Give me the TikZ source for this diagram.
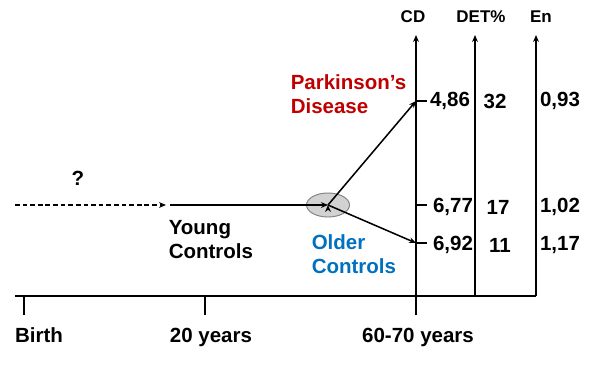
\documentclass[tikz,border=0pt]{standalone}
\usepackage{fontspec}
\setmainfont{Liberation Sans}
\usetikzlibrary{positioning,shapes,arrows.meta}
\definecolor{pdred}{RGB}{192,0,0}
\definecolor{ocblue}{RGB}{0,112,192}

\begin{document}
\begin{tikzpicture}[x=0.03cm,y=-0.03cm,line width=1.3pt,
  big/.style={font=\bfseries\fontsize{17.5}{20.5}\selectfont,inner sep=0pt},
  head/.style={font=\bfseries\fontsize{14.5}{17}\selectfont,inner sep=0pt},
  group/.style={big,align=left,anchor=west},
  val/.style={big},
  tip/.style={-{Stealth[length=6pt,width=5pt]}},
  hub node/.style={ellipse,draw=gray,line width=0.8pt,fill=gray!35,minimum width=1.29cm,minimum height=0.72cm}]
\useasboundingbox (0,0) rectangle (599,364);

% time line
\coordinate (t0) at (15,296);
\coordinate (t1) at (536,296);
\coordinate (b0) at (24,296);
\coordinate (b1) at (24,315);
\coordinate (y0) at (205,296);
\coordinate (y1) at (205,315);
\draw (t0) -- (t1);
\draw (b0) -- (b1);
\draw (y0) -- (y1);
\node[big] (birth) at (39,335) {Birth};
\node[big] (twenty) at (211,337) {20 years};
\node[big] (old) at (418,337) {60-70 years};

% axes
\coordinate (cd0) at (416,315);
\coordinate (cd1) at (416,35);
\coordinate (det0) at (475,296);
\coordinate (det1) at (475,35);
\coordinate (en0) at (536,296);
\coordinate (en1) at (536,35);
\draw[tip] (cd0) -- (cd1);
\draw[tip] (det0) -- (det1);
\draw[tip] (en0) -- (en1);
\node[head] (cd) at (413,17) {CD};
\node[head] (det) at (481,17) {DET\%};
\node[head] (en) at (541,17) {En};

% ticks on CD
\coordinate (k1) at (416,101);
\coordinate (k1e) at (427,101);
\coordinate (k2) at (416,205);
\coordinate (k2e) at (427,205);
\coordinate (k3) at (416,243);
\coordinate (k3e) at (427,243);
\draw (k1) -- (k1e);
\draw (k2) -- (k2e);
\draw (k3) -- (k3e);

% values
\node[val] (v1) at (450,101) {4,86};
\node[val] (v2) at (495,101) {32};
\node[val] (v3) at (560,101) {0,93};
\node[val] (v4) at (453,207) {6,77};
\node[val] (v5) at (498,207) {17};
\node[val] (v6) at (560,207) {1,02};
\node[val] (v7) at (453,245) {6,92};
\node[val] (v8) at (500,245) {11};
\node[val] (v9) at (560,245) {1,17};

% groups
\node[hub node] (hub) at (328,205) {};
\coordinate (d0) at (15,205);
\coordinate (d1) at (166,205);
\coordinate (s0) at (170,205);
\node[big] (q) at (78,178) {?};
\node[group] (young) at (168,240) {Young\\Controls};
\node[group,text=pdred] (pd) at (290,94) {Parkinson’s\\Disease};
\node[group,text=ocblue] (oc) at (311,254) {Older\\Controls};

\draw[tip,dash pattern=on 4pt off 2.5pt] (d0) -- (d1);
\path[draw,tip]
(s0) edge (hub.center)
(hub.center) edge (k1)
edge (k3)
;
\end{tikzpicture}
\end{document}
